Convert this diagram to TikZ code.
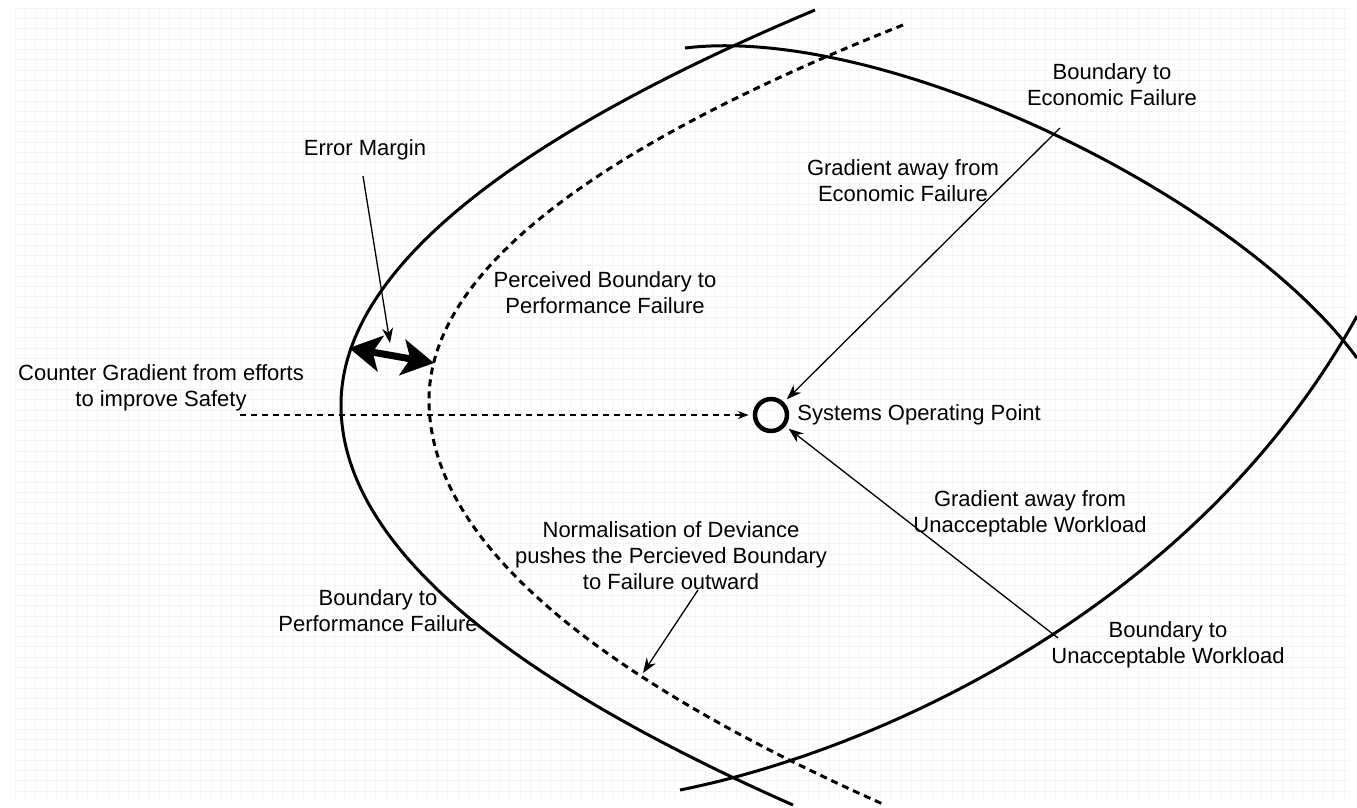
\documentclass[tikz,border=0pt]{standalone}
\usepackage{fontspec}
\setmainfont{Liberation Sans}
\usetikzlibrary{arrows.meta,positioning}

\definecolor{gridgray}{RGB}{245,245,245}

\tikzset{
  lbl/.style={align=center, inner sep=0pt, font=\fontsize{22}{26}\selectfont},
  boundary/.style={line width=3pt},
  perceived/.style={line width=3pt, dash pattern=on 7pt off 5pt},
  grad/.style={line width=1.3pt, shorten >=4pt, -{Stealth[length=15pt,width=11pt]}},
  marginarrow/.style={line width=7pt, {Stealth[length=32pt,width=36pt,inset=8pt]}-{Stealth[length=32pt,width=36pt,inset=8pt]}},
}

\begin{document}
\begin{tikzpicture}[x=1pt,y=-1pt]
        \useasboundingbox (0,0) rectangle (1357,807);

        % faint background grid
        \foreach \gx in {15,25.3,...,1350} \draw[gridgray] (\gx,8) -- (\gx,800);
        \foreach \gy in {8,18.3,...,800} \draw[gridgray] (15,\gy) -- (1350,\gy);

        % boundaries
        \draw[boundary] (815,10) .. controls (499,143) and (341,275) .. (341,405)
                .. controls (341,538) and (492,672) .. (793,805);
        \draw[perceived] (903,25) .. controls (587,150) and (429,275) .. (429,400)
                .. controls (429,535) and (581,670) .. (885,805);
        \draw[boundary] (685,48) .. controls (885,24) and (1237,195) .. (1357,358);
        \draw[boundary] (680,790) .. controls (880,750) and (1197,606) .. (1357,316);

        % labels
        \node[lbl] (econb) at (1112,85) {Boundary to\\Economic Failure};
        \node[lbl] (econg) at (903,181) {Gradient away from\\Economic Failure};
        \node[lbl] (errm) at (365,150) {Error Margin};
        \node[lbl] (percb) at (605,293) {Perceived Boundary to\\Performance Failure};
        \node[circle,draw,line width=4.5pt,minimum size=32pt,inner sep=0pt] (op) at (771,415) {};
        \node[lbl,right=8pt of op] (opl) {Systems Operating Point};
        \node[lbl] (counter) at (161,388) {Counter Gradient from efforts\\to improve Safety};
        \node[lbl] (workg) at (1030,514) {Gradient away from\\Unacceptable Workload};
        \node[lbl] (norm) at (671,556) {Normalisation of Deviance\\pushes the Percieved Boundary\\to Failure outward};
        \node[lbl] (perfb) at (378,611) {Boundary to\\Performance Failure};
        \node[lbl] (workb) at (1168,645) {Boundary to\\Unacceptable Workload};

        % arrows
        \coordinate (econp) at (1060,128);
        \coordinate (workp) at (1058,638);
        \coordinate (cstart) at (240,415);
        \coordinate (emstart) at (363,176);
        \coordinate (emtip) at (390,343);
        \coordinate (nstart) at (698,590);
        \coordinate (ntip) at (643,673);
        \coordinate (marginl) at (349,348);
        \coordinate (marginr) at (434,363);

        \draw[grad] (econp) -- (op);
        \draw[grad] (workp) -- (op);
        \draw[grad,dash pattern=on 6pt off 5pt,-{Stealth[length=11pt,width=8pt]}] (cstart) -- (op);
        \draw[grad,shorten >=0pt] (emstart) -- (emtip);
        \draw[grad,shorten >=0pt] (nstart) -- (ntip);
        \draw[marginarrow] (marginl) -- (marginr);
\end{tikzpicture}
\end{document}
